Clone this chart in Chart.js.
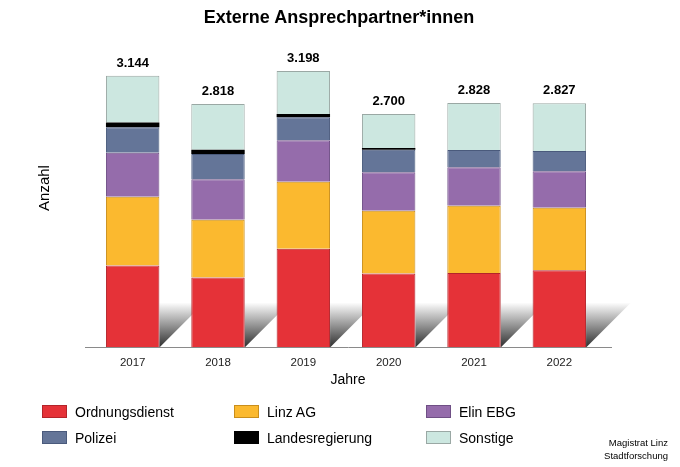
<!DOCTYPE html>
<html>
<head>
<meta charset="utf-8">
<script src="https://cdn.jsdelivr.net/npm/chart.js@4.4.0/dist/chart.umd.min.js"></script>
<style>
  body { margin: 0; background: #fff; font-family: "Liberation Sans", Arial, sans-serif; }
  #wrap { position: relative; width: 680px; height: 467px; }
  #titel { position: absolute; left: 0; width: 678px; top: 7px; text-align: center; font-weight: bold; font-size: 18px; line-height: 21px; color: #000; }
  .leg { position: absolute; font-size: 14px; line-height: 16px; color: #000; white-space: nowrap; }
  .leg span { position: absolute; left: 0; top: 1px; width: 25px; height: 13px; box-sizing: border-box; border: 1px solid; }
  .leg b { font-weight: normal; position: absolute; left: 33px; top: 0; }
  #quelle { position: absolute; right: 12px; top: 436px; font-size: 9.5px; line-height: 13.3px; text-align: right; color: #000; }
</style>
</head>
<body>
<div id="wrap">
  <canvas id="chart" width="680" height="467"></canvas>
  <div id="titel">Externe Ansprechpartner*innen</div>
  <div id="legende"></div>
  <div id="quelle">Magistrat Linz<br>Stadtforschung</div>
</div>
<script>
const jahre = ['2017', '2018', '2019', '2020', '2021', '2022'];
const ordnungsdienst = [948, 808, 1141, 855, 862, 893];
const linzAG = [796, 669, 777, 726, 777, 723];
const elinEBG = [510, 468, 480, 445, 445, 422];
const polizei = [294, 294, 267, 262, 201, 236];
const landesregierung = [54, 50, 35, 20, 0, 0];
const sonstige = [542, 529, 498, 392, 543, 553];
const gesamt = [3144, 2818, 3198, 2700, 2828, 2827];

const reihen = [
    { label: 'Ordnungsdienst', data: ordnungsdienst, color: '#E53238', border: '#B3242A' },
    { label: 'Polizei', data: polizei, color: '#647598', border: '#4A5A7C' },
    { label: 'Linz AG', data: linzAG, color: '#FBB92F', border: '#C98E1C' },
    { label: 'Landesregierung', data: landesregierung, color: '#000000', border: '#000000' },
    { label: 'Elin EBG', data: elinEBG, color: '#956CAB', border: '#6F4F85' },
    { label: 'Sonstige', data: sonstige, color: '#CCE7E0', border: '#9AA8A4' }
];
// Reihenfolge im Stapel (unten nach oben)
const stapel = ['Ordnungsdienst', 'Linz AG', 'Elin EBG', 'Polizei', 'Landesregierung', 'Sonstige'];

// Legende
const legPos = [[42, 404], [42, 430], [234, 404], [234, 430], [426, 404], [426, 430]];
const legende = document.getElementById('legende');
reihen.forEach((r, i) => {
    const d = document.createElement('div');
    d.className = 'leg';
    d.style.left = legPos[i][0] + 'px';
    d.style.top = legPos[i][1] + 'px';
    d.innerHTML = `<span style="background:${r.color};border-color:${r.border}"></span><b>${r.label}</b>`;
    legende.appendChild(d);
});

const schattenPlugin = {
    id: 'schatten',
    beforeDatasetsDraw(chart) {
        const ctx = chart.ctx;
        const meta = chart.getDatasetMeta(0);
        const base = chart.scales.y.getPixelForValue(0);
        const h = 45;
        const grad = ctx.createLinearGradient(0, base - h, 0, base);
        grad.addColorStop(0, 'rgba(255,255,255,1)');
        grad.addColorStop(1, '#2e2e2e');
        ctx.save();
        ctx.fillStyle = grad;
        meta.data.forEach(bar => {
            const right = bar.x + bar.width / 2;
            ctx.beginPath();
            ctx.moveTo(right, base);
            ctx.lineTo(right + h, base - h);
            ctx.lineTo(right, base - h);
            ctx.closePath();
            ctx.fill();
        });
        ctx.restore();
    },
    afterDatasetsDraw(chart) {
        const ctx = chart.ctx;
        const area = chart.chartArea;
        const base = Math.round(chart.scales.y.getPixelForValue(0)) + 0.5;
        ctx.save();
        ctx.strokeStyle = '#8a8a8a';
        ctx.lineWidth = 1;
        ctx.beginPath();
        ctx.moveTo(area.left - 5, base);
        ctx.lineTo(area.right + 10, base);
        ctx.stroke();

        // Summen über den Balken
        const oben = chart.getDatasetMeta(stapel.length - 1);
        ctx.fillStyle = '#000';
        ctx.font = 'bold 13px "Liberation Sans", Arial, sans-serif';
        ctx.textAlign = 'center';
        ctx.textBaseline = 'middle';
        oben.data.forEach((bar, i) => {
            ctx.fillText(gesamt[i].toLocaleString('de-DE'), bar.x, bar.y - 12.5);
        });

        // Achsentitel unten
        ctx.font = '14px "Liberation Sans", Arial, sans-serif';
        ctx.fillText('Jahre', (area.left + area.right) / 2 + 2, base + 33);

        // Achsentitel links
        ctx.font = '15px "Liberation Sans", Arial, sans-serif';
        ctx.translate(44.5, 188);
        ctx.rotate(-Math.PI / 2);
        ctx.fillText('Anzahl', 0, 0);
        ctx.restore();
    }
};

const datasets = stapel.map(name => {
    const r = reihen.find(x => x.label === name);
    return {
        label: r.label,
        data: r.data,
        backgroundColor: r.color,
        borderColor: r.border,
        borderWidth: name === 'Landesregierung' ? 0 : 1,
        barPercentage: 0.626,
        categoryPercentage: 1
    };
});

new Chart(document.getElementById('chart'), {
    type: 'bar',
    data: { labels: jahre, datasets: datasets },
    options: {
        responsive: false,
        devicePixelRatio: 1,
        animation: false,
        layout: { padding: { left: 90, right: 78, top: 45, bottom: 87.8 } },
        plugins: {
            legend: { display: false },
            title: { display: false },
            tooltip: { enabled: false }
        },
        scales: {
            x: {
                stacked: true,
                grid: { display: false, drawTicks: false },
                border: { display: false },
                ticks: { color: '#222', padding: 9, font: { size: 11.5, family: '"Liberation Sans", Arial, sans-serif' } },
                title: { display: false }
            },
            y: {
                stacked: true,
                display: false,
                min: 0,
                max: 3500
            }
        }
    },
    plugins: [schattenPlugin]
});
</script>
</body>
</html>
